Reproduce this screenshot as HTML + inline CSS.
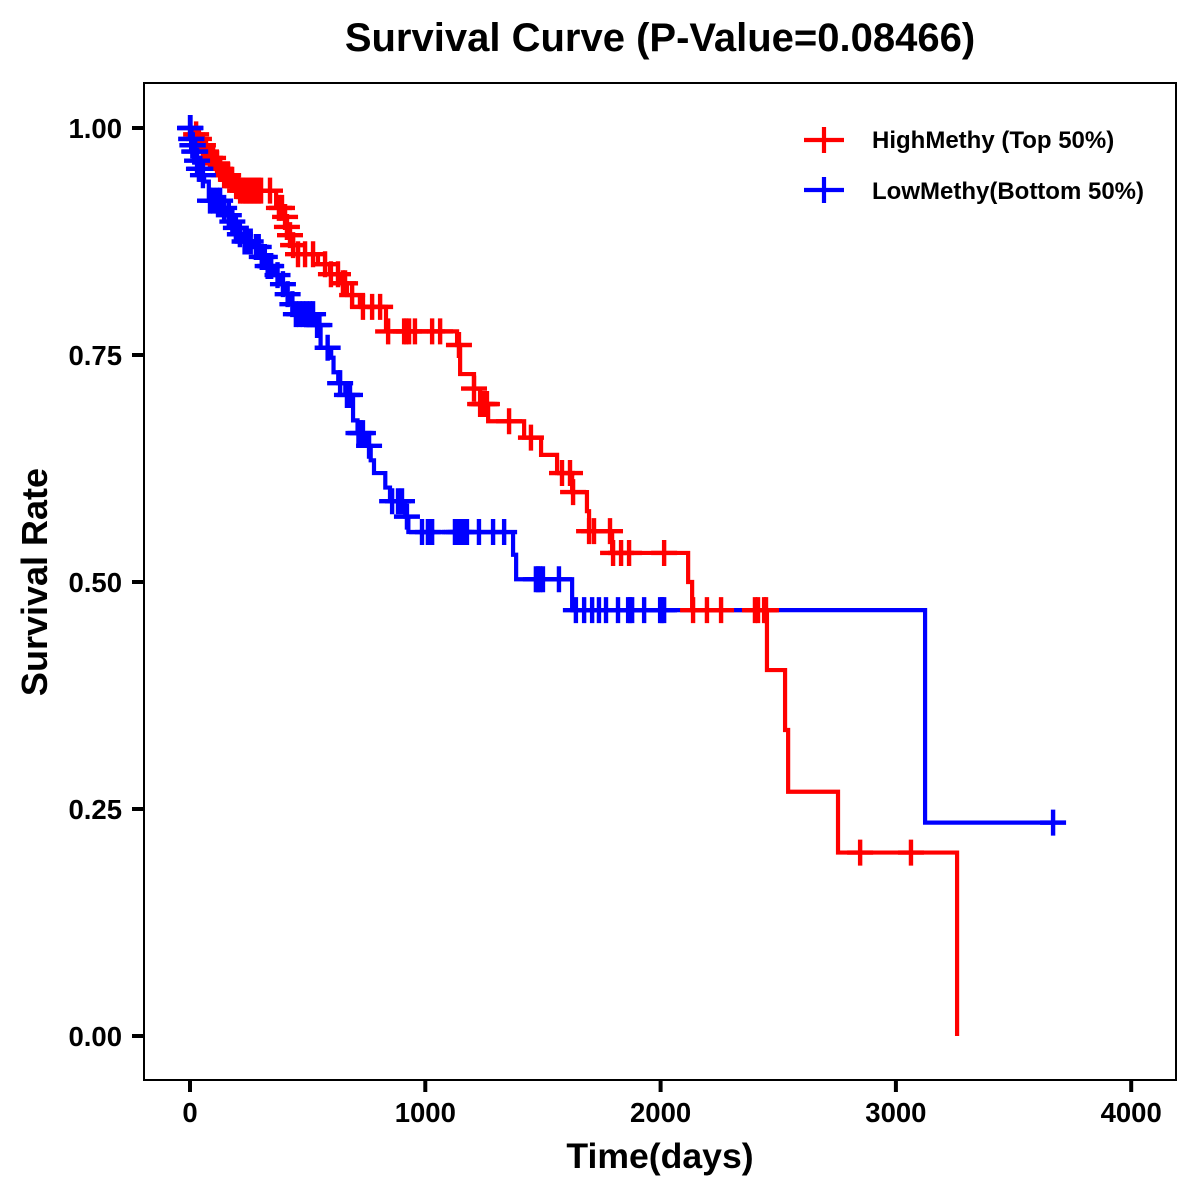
<!DOCTYPE html>
<html lang="en">
<head>
<meta charset="utf-8">
<title>Survival Curve</title>
<style>
html,body{margin:0;padding:0;background:#fff;width:1200px;height:1200px;overflow:hidden}
svg{display:block}
text{font-family:"Liberation Sans",Arial,sans-serif;font-weight:bold;fill:#000}
</style>
</head>
<body>
<svg id="chart" xmlns="http://www.w3.org/2000/svg" width="1200" height="1200" viewBox="0 0 1200 1200">
  <rect x="0" y="0" width="1200" height="1200" fill="#fff"/>
  <text x="660" y="51" font-size="40" text-anchor="middle">Survival Curve (P-Value=0.08466)</text>
  <text x="660" y="1168" font-size="35.6" text-anchor="middle">Time(days)</text>
  <text x="47" y="582" font-size="36" text-anchor="middle" transform="rotate(-90 47 582)">Survival Rate</text>
  <g id="ticks"></g>
  <g id="curves"></g>
  <rect x="144" y="83" width="1032" height="997" fill="none" stroke="#000" stroke-width="2"/>
  <g>
    <g>
      <line x1="804" y1="140" x2="844" y2="140" stroke="#ff0000" stroke-width="4.2"/>
      <line x1="824" y1="127" x2="824" y2="153" stroke="#ff0000" stroke-width="4.2"/>
      <text x="872" y="148" font-size="24">HighMethy (Top 50%)</text>
    </g>
    <g>
      <line x1="804" y1="190" x2="844" y2="190" stroke="#0000ff" stroke-width="4.2"/>
      <line x1="824" y1="177" x2="824" y2="203" stroke="#0000ff" stroke-width="4.2"/>
      <text x="872" y="199" font-size="24">LowMethy(Bottom 50%)</text>
    </g>
  </g>
</svg>
<script>
const xTicks = [0, 1000, 2000, 3000, 4000];
const yTicks = ["0.00", "0.25", "0.50", "0.75", "1.00"];

const highEventTimes = [17,30,42,60,81,102,123,144,170,196,212,366,395,412,421,438,459,544,595,638,667,722,833,1135,1148,1207,1233,1267,1420,1492,1560,1624,1687,1696,1794,2117,2134,2452,2529,2542,2754,3260];
const highSurvival = [0.993,0.988,0.981,0.974,0.967,0.961,0.955,0.948,0.943,0.936,0.931,0.912,0.902,0.891,0.882,0.871,0.861,0.850,0.839,0.829,0.816,0.803,0.776,0.761,0.729,0.713,0.696,0.677,0.659,0.640,0.620,0.599,0.578,0.556,0.532,0.500,0.469,0.403,0.337,0.269,0.202,0];
const highCensorTimes = [26,38,55,68,85,98,115,128,145,162,179,196,204,213,225,234,242,251,259,268,276,285,293,302,340,378,391,404,412,425,438,459,489,523,574,599,629,650,659,689,735,774,808,842,910,918,931,956,1029,1063,1143,1207,1233,1241,1250,1258,1262,1356,1449,1581,1615,1628,1696,1717,1785,1798,1832,1866,2015,2138,2197,2257,2401,2414,2440,2448,2848,3064];

const lowEventTimes = [4,8,14,28,34,50,60,80,140,160,175,190,205,225,270,300,325,360,385,410,425,445,531,555,600,610,630,660,693,712,745,768,782,830,850,915,928,1373,1386,1624,3124];
const lowSurvival = [0.988,0.981,0.974,0.964,0.955,0.948,0.941,0.920,0.912,0.904,0.897,0.890,0.883,0.875,0.869,0.858,0.848,0.838,0.828,0.817,0.806,0.795,0.783,0.758,0.747,0.731,0.719,0.706,0.678,0.664,0.650,0.634,0.620,0.604,0.589,0.572,0.555,0.530,0.503,0.469,0.235];
const lowCensorTimes = [0,2,5,6,10,12,18,22,30,38,44,55,85,98,115,128,145,165,180,195,212,232,245,258,280,292,305,318,340,330,345,372,395,415,435,450,465,480,495,510,523,540,550,585,638,667,680,716,725,735,761,859,884,901,922,986,1011,1029,1126,1135,1143,1152,1160,1177,1228,1288,1335,1470,1479,1488,1500,1568,1640,1675,1709,1738,1768,1819,1862,1870,1879,1930,1998,2006,2015,3668];

const NS = "http://www.w3.org/2000/svg";
const xScale = t => 190 + t * 0.2353;
const yScale = s => 1036 - s * 908;

function make(tag, attrs) {
  const el = document.createElementNS(NS, tag);
  for (const k in attrs) el.setAttribute(k, attrs[k]);
  return el;
}

const ticksGroup = document.getElementById("ticks");
xTicks.forEach(v => {
  const px = xScale(v);
  const tick = make("line", {x1: px, y1: 1080, x2: px, y2: 1092, stroke: "#000", "stroke-width": 4});
  
  
  ticksGroup.appendChild(tick);
  const label = make("text", {x: px, y: 1122, "font-size": 27.5, "text-anchor": "middle"});
  
  
  label.textContent = v;
  ticksGroup.appendChild(label);
});
yTicks.forEach(v => {
  const py = yScale(parseFloat(v));
  const tick = make("line", {x1: 132, y1: py, x2: 144, y2: py, stroke: "#000", "stroke-width": 4});
  
  
  ticksGroup.appendChild(tick);
  const label = make("text", {x: 122, y: py + 10, "font-size": 27.5, "text-anchor": "end"});
  
  
  label.textContent = v;
  ticksGroup.appendChild(label);
});

function stepPath(times, survival) {
  let d = "M" + xScale(0) + " " + yScale(1);
  times.forEach((t, i) => {
    d += "H" + xScale(t).toFixed(2) + "V" + yScale(survival[i]).toFixed(2);
  });
  return d;
}
function survivalAt(t, times, survival) {
  let s = 1;
  for (let i = 0; i < times.length; i++) { if (t >= times[i]) s = survival[i]; }
  return s;
}

const curves = document.getElementById("curves");
function drawLine(times, survival, extendTo, color, name) {
  let d = stepPath(times, survival);
  if (extendTo !== null) d += "H" + xScale(extendTo).toFixed(2);
  const path = make("path", {d: d, fill: "none", stroke: color, "stroke-width": 4.2, "stroke-linejoin": "miter"});
  
  
  curves.appendChild(path);
}
function drawMarks(censor, times, survival, color, name) {
  const group = make("g", {stroke: color, "stroke-width": 4.4});
  
  
  censor.forEach(t => {
    const cx = xScale(t);
    const cy = yScale(survivalAt(t, times, survival));
    const mark = make("path", {d: "M" + (cx - 13).toFixed(2) + " " + cy.toFixed(2) + "H" + (cx + 13).toFixed(2) + "M" + cx.toFixed(2) + " " + (cy - 13).toFixed(2) + "V" + (cy + 13).toFixed(2), fill: "none"});
    
    
    group.appendChild(mark);
  });
  curves.appendChild(group);
}
drawLine(highEventTimes, highSurvival, null, "#ff0000", "high-methy-curve");
drawLine(lowEventTimes, lowSurvival, lowCensorTimes[lowCensorTimes.length - 1], "#0000ff", "low-methy-curve");
drawMarks(highCensorTimes, highEventTimes, highSurvival, "#ff0000", "high-methy-censor-marks");
drawMarks(lowCensorTimes, lowEventTimes, lowSurvival, "#0000ff", "low-methy-censor-marks");
</script>
</body>
</html>
